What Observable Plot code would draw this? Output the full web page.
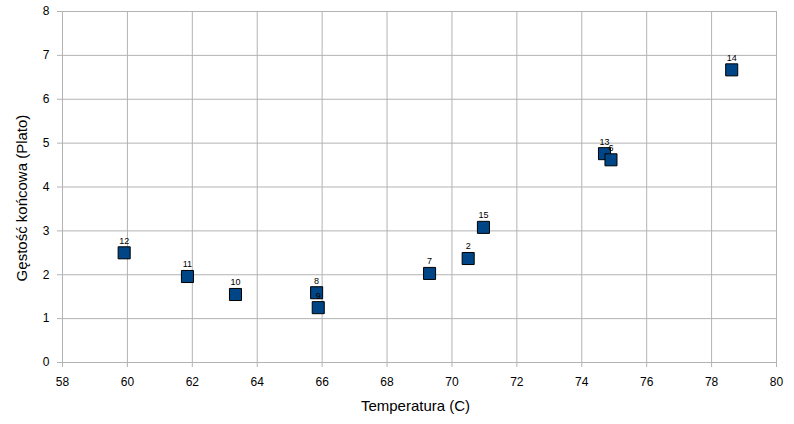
<!DOCTYPE html>
<html>
<head>
<meta charset="utf-8">
<script src="https://cdn.jsdelivr.net/npm/d3@7"></script>
<script src="https://cdn.jsdelivr.net/npm/@observablehq/plot@0.6"></script>
<style>
  html, body { margin: 0; padding: 0; background: #fff; }
  svg { font-family: "Liberation Sans", Arial, sans-serif; }
</style>
</head>
<body>
<div id="chart"></div>
<script>
const labels = ["12", "11", "10", "8", "9", "7", "2", "15", "13", "6", "14"];
const temperatures = [59.9, 61.85, 63.33, 65.83, 65.88, 69.31, 70.5, 70.97, 74.7, 74.9, 78.62];
const gravities = [2.5, 1.96, 1.55, 1.59, 1.25, 2.03, 2.37, 3.08, 4.76, 4.62, 6.67];
const xTicks = [58, 60, 62, 64, 66, 68, 70, 72, 74, 76, 78, 80];
const yTicks = [0, 1, 2, 3, 4, 5, 6, 7, 8];
const xTitle = "Temperatura (C)";
const yTitle = "Gęstość końcowa (Plato)";

const data = labels.map((l, i) => ({label: l, x: temperatures[i], y: gravities[i]}));

const chart = Plot.plot({
  width: 794,
  height: 424,
  marginLeft: 62,
  marginRight: 18,
  marginTop: 11,
  marginBottom: 62,
  style: {fontFamily: "Liberation Sans, Arial, sans-serif", fontSize: "12px", color: "#000"},
  x: {domain: [58, 80]},
  y: {domain: [0, 8]},
  marks: [
    Plot.gridX(xTicks, {stroke: "#b3b3b3", strokeOpacity: 1}),
    Plot.gridY(yTicks, {stroke: "#b3b3b3", strokeOpacity: 1}),
    Plot.ruleX([58], {stroke: "#b3b3b3"}),
    Plot.ruleY([0], {stroke: "#b3b3b3"}),
    Plot.axisX(xTicks, {
      tickSize: 5, tickPadding: 10, stroke: "#b3b3b3", fill: "#000", fontSize: 12, label: null
    }),
    Plot.axisY(yTicks, {
      tickSize: 5, tickPadding: 8, stroke: "#b3b3b3", fill: "#000", fontSize: 12, label: null
    }),
    Plot.text([xTitle], {frameAnchor: "bottom", dy: 48, dx: -4, fontSize: 15, fill: "#000"}),
    Plot.text([yTitle], {frameAnchor: "left", textAnchor: "middle", dx: -40, dy: 11, rotate: -90, fontSize: 15, fill: "#000"}),
    Plot.dot(data, {x: "x", y: "y", symbol: "square", r: 6.8, fill: "#004586", stroke: "#000", strokeWidth: 1}),
    Plot.text(data, {x: "x", y: "y", text: "label", dy: -12, fontSize: 9, fill: "#000"})
  ]
});
document.getElementById("chart").appendChild(chart);
</script>
</body>
</html>
